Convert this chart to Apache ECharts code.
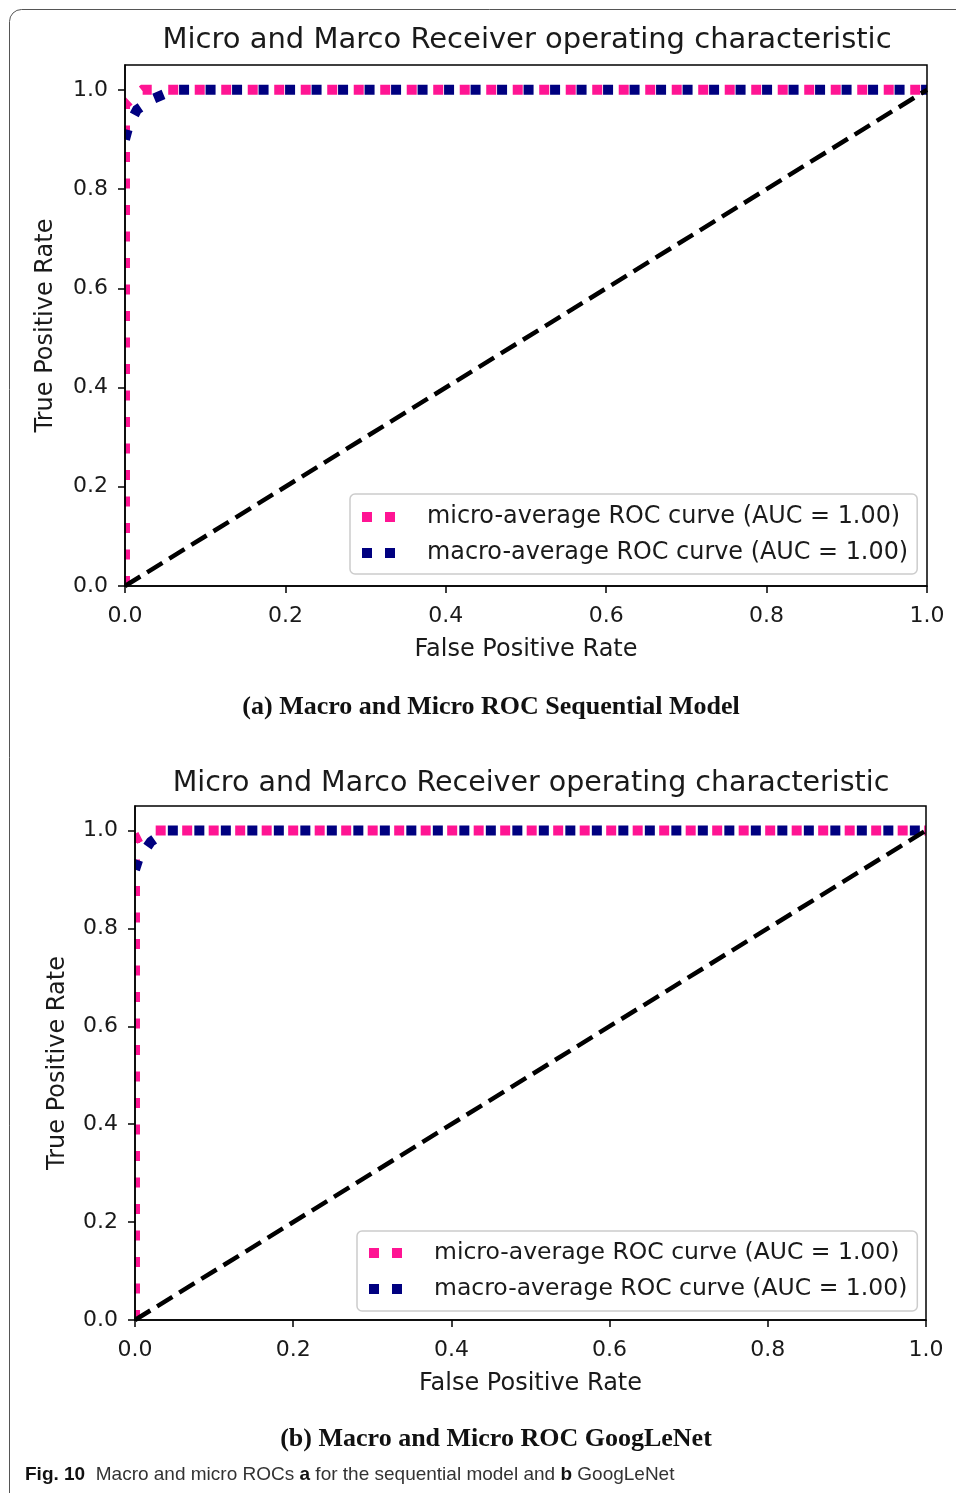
<!DOCTYPE html>
<html>
<head>
<meta charset="utf-8">
<script src="https://cdn.jsdelivr.net/npm/echarts@6/dist/echarts.min.js"></script>
<style>
html,body{margin:0;padding:0;background:#fff;}
#chart{width:956px;height:1493px;}
</style>
</head>
<body>
<div id="chart"></div>
<script>
// ---- data ----
const plotTitle = 'Micro and Marco Receiver operating characteristic';
const captionA = '(a) Macro and Micro ROC Sequential Model';
const captionB = '(b) Macro and Micro ROC GoogLeNet';
const microName = 'micro-average ROC curve (AUC = 1.00)';
const macroName = 'macro-average ROC curve (AUC = 1.00)';
const tickValues = [0, 0.2, 0.4, 0.6, 0.8, 1.0];

// plot (a) sequential model
const microA_fpr = [0, 0, 0.01, 0.022, 1];
const microA_tpr = [0, 0.97, 0.985, 1.0, 1.0];
const macroA_fpr = [0, 0.005, 0.015, 0.035, 0.062, 1];
const macroA_tpr = [0.9, 0.93, 0.96, 0.982, 1.0, 1.0];
// plot (b) GoogLeNet
const microB_fpr = [0, 0, 0.022, 1];
const microB_tpr = [0, 0.982, 1.0, 1.0];
const macroB_fpr = [0, 0.004, 0.02, 0.04, 1];
const macroB_tpr = [0.92, 0.94, 0.977, 1.0, 1.0];
// chance line
const diag_x = [0, 1];
const diag_y = [0, 1];

const pairs = (xs, ys) => xs.map((x, i) => [x, ys[i]]);

const FONT = 'DejaVu Sans';
const PINK = '#ff1493';
const NAVY = '#000080';
const TXT = '#1a1a1a';

const grids = [
  {left: 125, top: 65, width: 802, height: 521},
  {left: 135, top: 806, width: 791, height: 514}
];
const yNameGaps = [67, 65];

function xAxisCfg(gi) {
  return {
    type: 'value', gridIndex: gi, min: 0, max: 1, interval: 0.2, z: 10,
    name: 'False Positive Rate', nameLocation: 'middle', nameGap: 52,
    nameTextStyle: {fontFamily: FONT, fontSize: 24, color: TXT},
    axisLine: {show: true, onZero: false, lineStyle: {color: '#000', width: 1.5}},
    axisTick: {show: true, inside: false, length: 7, lineStyle: {color: '#000', width: 1.5}, customValues: tickValues},
    axisLabel: {fontFamily: FONT, fontSize: 22, color: TXT, margin: 19, customValues: tickValues,
      formatter: v => v.toFixed(1)},
    splitLine: {show: false}
  };
}
function yAxisCfg(gi) {
  return {
    type: 'value', gridIndex: gi, min: 0, max: 1.05, z: 10,
    name: 'True Positive Rate', nameLocation: 'middle', nameGap: yNameGaps[gi],
    nameTextStyle: {fontFamily: FONT, fontSize: 24, color: TXT},
    axisLine: {show: true, onZero: false, lineStyle: {color: '#000', width: 1.5}},
    axisTick: {show: true, inside: false, length: 7, lineStyle: {color: '#000', width: 1.5}, customValues: tickValues},
    axisLabel: {fontFamily: FONT, fontSize: 22, color: TXT, margin: 17, customValues: tickValues,
      formatter: v => v.toFixed(1)},
    splitLine: {show: false}
  };
}
function dotted(name, color, data, gi) {
  return {
    type: 'line', name: name, xAxisIndex: gi, yAxisIndex: gi, data: data,
    showSymbol: false, symbol: 'none', animation: false, silent: true,
    lineStyle: {color: color, width: 10, type: [10, 16.5], cap: 'butt', join: 'miter'},
    itemStyle: {color: color}
  };
}
function dashed(data, gi) {
  return {
    type: 'line', name: 'chance', xAxisIndex: gi, yAxisIndex: gi, data: data,
    showSymbol: false, symbol: 'none', animation: false, silent: true,
    lineStyle: {color: '#000', width: 4.5, type: [18, 8], cap: 'butt'}
  };
}
const legendIcon = 'path://M0,0h10v10h-10z M23,0h10v10h-10z';
function legendCfg(left, top, fs, padTop, padRight) {
  return {
    data: [microName, macroName], orient: 'vertical', left: left, top: top, z: 12,
    padding: [padTop, padRight, 18 - padTop, 12], itemGap: 10, itemWidth: 33, itemHeight: 10,
    icon: legendIcon,
    backgroundColor: 'rgba(255,255,255,0.85)', borderColor: '#cccccc', borderWidth: 1.5, borderRadius: 5,
    textStyle: {fontFamily: FONT, fontSize: fs, color: TXT, lineHeight: 26, padding: [0, 0, 0, 27]},
    selectedMode: false
  };
}
const capStyle = {fontFamily: 'Liberation Serif', fontSize: 26, fontWeight: 'bold', color: '#111'};

// white masks hiding the part of the curves that spills left of the y axes (matplotlib clips at the frame)
const masks = grids.map(g => ({
  type: 'rect', z: 5, silent: true,
  shape: {x: g.left - 9, y: g.top, width: 8.2, height: g.height},
  style: {fill: '#fff'}
}));

const option = {
  animation: false,
  backgroundColor: '#fff',
  grid: grids.map(g => Object.assign({show: true, z: 10, borderColor: '#000', borderWidth: 1.5, backgroundColor: 'transparent', containLabel: false}, g)),
  xAxis: [xAxisCfg(0), xAxisCfg(1)],
  yAxis: [yAxisCfg(0), yAxisCfg(1)],
  title: [
    {text: plotTitle, left: 527, top: 26, textAlign: 'center', padding: 0,
     textStyle: {fontFamily: FONT, fontSize: 29, fontWeight: 'normal', color: TXT}},
    {text: plotTitle, left: 531, top: 769, textAlign: 'center', padding: 0,
     textStyle: {fontFamily: FONT, fontSize: 28.5, fontWeight: 'normal', color: TXT}},
    {text: captionA, left: 491, top: 694, textAlign: 'center', padding: 0, textStyle: capStyle},
    {text: captionB, left: 496, top: 1426, textAlign: 'center', padding: 0, textStyle: capStyle},
    {text: '{b|Fig. 10}  Macro and micro ROCs {b|a} for the sequential model and {b|b} GoogLeNet',
     left: 25, top: 1465, padding: 0,
     textStyle: {fontFamily: 'Liberation Sans Narrow, Liberation Sans', fontSize: 19, fontWeight: 'normal', color: '#333',
       rich: {b: {fontFamily: 'Liberation Sans Narrow, Liberation Sans', fontSize: 19, fontWeight: 'bold', color: '#111'}}}}
  ],
  legend: [legendCfg(350, 494, 23.9, 10, 9), legendCfg(357, 1231, 23.5, 9, 10)],
  graphic: [
    {type: 'rect', shape: {x: 9.5, y: 9.5, width: 980, height: 1520, r: 12}, style: {fill: 'none', stroke: '#555', lineWidth: 1}, silent: true}
  ].concat(masks),
  series: [
    dotted(microName, PINK, pairs(microA_fpr, microA_tpr), 0),
    dotted(macroName, NAVY, pairs(macroA_fpr, macroA_tpr), 0),
    dashed(pairs(diag_x, diag_y), 0),
    dotted(microName, PINK, pairs(microB_fpr, microB_tpr), 1),
    dotted(macroName, NAVY, pairs(macroB_fpr, macroB_tpr), 1),
    dashed(pairs(diag_x, diag_y), 1)
  ]
};
const chart = echarts.init(document.getElementById('chart'), null, {renderer: 'canvas'});
chart.setOption(option);
</script>
</body>
</html>
